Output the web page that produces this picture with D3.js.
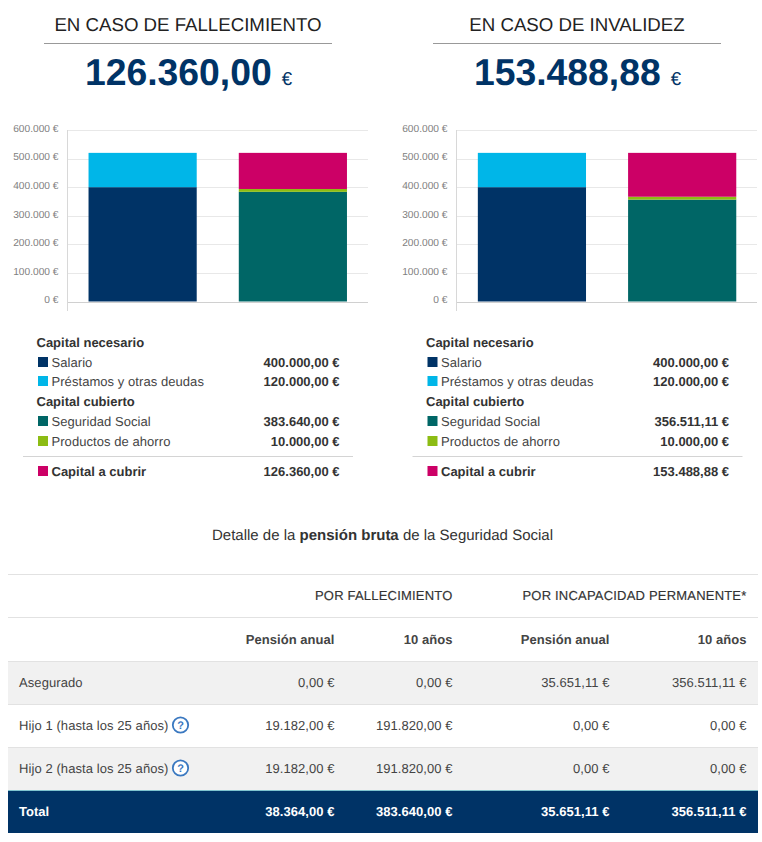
<!DOCTYPE html>
<html><head><meta charset="utf-8">
<script src="https://cdn.jsdelivr.net/npm/d3@7"></script>
<style>
html,body{margin:0;padding:0;background:#fff}
svg{display:block}
text{font-family:"Liberation Sans",Arial,sans-serif;text-rendering:geometricPrecision}
</style></head><body><svg id="c" width="762" height="842"></svg>
<script>
const panelTitles=["EN CASO DE FALLECIMIENTO","EN CASO DE INVALIDEZ"];
const panelTotals=["126.360,00","153.488,88"];
const barNames=["necesario","cubierto"];
const salario=[400000,400000];
const prestamos=[120000,120000];
const seguridad=[383640,356511.11];
const ahorro=[10000,10000];
const aCubrir=[126360,153488.88];
const yTicks=[0,100000,200000,300000,400000,500000,600000];
const colors={salario:"#003366",prestamos:"#00b6e8",seguridad:"#006666",ahorro:"#8cbc14",cubrir:"#cc0066"};
const legendHead=["Capital necesario","Capital cubierto"];
const legendSalarioVals=["400.000,00 €","400.000,00 €"];
const legendPrestVals=["120.000,00 €","120.000,00 €"];
const legendSegVals=["383.640,00 €","356.511,11 €"];
const legendAhorroVals=["10.000,00 €","10.000,00 €"];
const legendCubrirVals=["126.360,00 €","153.488,88 €"];
const tableTitle=["Detalle de la ","pensión bruta"," de la Seguridad Social"];
const groupHeads=["POR FALLECIMIENTO","POR INCAPACIDAD PERMANENTE*"];
const subHeads=["Pensión anual","10 años","Pensión anual","10 años"];
const rowLabels=["Asegurado","Hijo 1 (hasta los 25 años)","Hijo 2 (hasta los 25 años)"];
const rowValues=[
 ["0,00 €","0,00 €","35.651,11 €","356.511,11 €"],
 ["19.182,00 €","191.820,00 €","0,00 €","0,00 €"],
 ["19.182,00 €","191.820,00 €","0,00 €","0,00 €"]];
const totalLabel="Total";
const totalValues=["38.364,00 €","383.640,00 €","35.651,11 €","356.511,11 €"];

const svg=d3.select("#c");
const fmt=d=>d3.format(",")(d).replace(/,/g,".")+" €";
const dark="#333333";

panelTitles.forEach((t,i)=>{
  const dx=i*389;
  const g=svg.append("g").attr("transform",`translate(${dx},0)`);
  const cx=188;
  g.append("text").attr("x",cx).attr("y",31).attr("text-anchor","middle").attr("font-size",18.67).attr("fill","#222").text(t);
  g.append("line").attr("x1",44).attr("x2",332).attr("y1",43.5).attr("y2",43.5).attr("stroke","#999");
  const big=g.append("text").attr("x",cx+0.5).attr("y",85).attr("text-anchor","middle").attr("fill","#003366");
  big.append("tspan").attr("font-size",37.33).attr("font-weight","bold").text(panelTotals[i]);
  big.append("tspan").attr("font-size",18.67).attr("dx",10).text("€");

  const y=d3.scaleLinear().domain([0,600000]).range([301.5,130]);
  const x=d3.scaleBand().domain(barNames).range([67.5,368]).paddingInner(0.28).paddingOuter(0.14);
  const ax=g.append("g").attr("transform","translate(67.5,-2)").call(d3.axisLeft(y).tickValues(yTicks).tickFormat(fmt).tickSize(0).tickPadding(9));
  ax.select(".domain").remove();
  ax.selectAll("text").attr("font-size",10.2).attr("font-family","'Liberation Sans',Arial,sans-serif").attr("fill","#808080");
  g.append("g").selectAll("line").data(yTicks).join("line").attr("x1",67.5).attr("x2",368)
    .attr("y1",d=>Math.round(y(d))+.5).attr("y2",d=>Math.round(y(d))+.5).attr("stroke",d=>d?"#e8e8e8":"#d0d0d0");
  g.append("line").attr("x1",67.5).attr("x2",67.5).attr("y1",130).attr("y2",311).attr("stroke","#d8d8d8");
  const stacks=[
    [[salario[i],colors.salario],[prestamos[i],colors.prestamos]],
    [[seguridad[i],colors.seguridad],[ahorro[i],colors.ahorro],[aCubrir[i],colors.cubrir]]];
  stacks.forEach((s,k)=>{
    let acc=0;
    s.forEach(([v,col])=>{
      g.append("rect").attr("x",x(barNames[k])+i*0.3).attr("width",x.bandwidth())
       .attr("y",y(acc+v)).attr("height",y(acc)-y(acc+v)).attr("fill",col);
      acc+=v;
    });
  });
  // legend
  const L=g.append("g").attr("transform",`translate(${i*0.5},0)`);
  const head=(txt,yy)=>L.append("text").attr("x",36.5).attr("y",yy).attr("font-size",13).attr("font-weight","bold").attr("fill",dark).text(txt);
  const item=(txt,val,col,yy,b)=>{
    L.append("rect").attr("x",38).attr("y",yy-10).attr("width",10).attr("height",10).attr("fill",col);
    L.append("text").attr("x",51.5).attr("y",yy).attr("font-size",13).attr("letter-spacing",b?0:0.06).attr("font-weight",b?"bold":"normal").attr("fill",b?dark:"#444").text(txt);
    L.append("text").attr("x",339.5).attr("y",yy).attr("text-anchor","end").attr("font-size",13).attr("font-weight","bold").attr("fill",dark).text(val);
  };
  head(legendHead[0],347);
  item("Salario",legendSalarioVals[i],colors.salario,367);
  item("Préstamos y otras deudas",legendPrestVals[i],colors.prestamos,386);
  head(legendHead[1],406);
  item("Seguridad Social",legendSegVals[i],colors.seguridad,426);
  item("Productos de ahorro",legendAhorroVals[i],colors.ahorro,446);
  L.append("line").attr("x1",23).attr("x2",353).attr("y1",456.5).attr("y2",456.5).attr("stroke","#d4d4d4");
  item("Capital a cubrir",legendCubrirVals[i],colors.cubrir,476,true);
});

// table
const tt=svg.append("text").attr("x",382.5).attr("y",540).attr("text-anchor","middle").attr("font-size",15).attr("fill",dark);
tableTitle.forEach((s,i)=>tt.append("tspan").attr("font-weight",i==1?"bold":"normal").text(s));

const T=svg.append("g");
const tl=8,tr=758;
const colRight=[334.5,452.5,609.5,746.5];
[574.5,617.5].forEach(yy=>T.append("line").attr("x1",tl).attr("x2",tr).attr("y1",yy).attr("y2",yy).attr("stroke","#e2e2e2"));
T.append("text").attr("x",452.5).attr("y",600).attr("text-anchor","end").attr("font-size",13).attr("letter-spacing",0.2).attr("fill",dark).attr("stroke",dark).attr("stroke-width",0.15).text(groupHeads[0]);
T.append("text").attr("x",746.5).attr("y",600).attr("text-anchor","end").attr("font-size",13).attr("letter-spacing",0.2).attr("fill",dark).attr("stroke",dark).attr("stroke-width",0.15).text(groupHeads[1]);
subHeads.forEach((s,i)=>T.append("text").attr("x",colRight[i]).attr("y",644).attr("text-anchor","end").attr("font-size",13).attr("letter-spacing",0.05).attr("font-weight","bold").attr("fill","#444").text(s));
const rowTop=[661,704,747];
rowLabels.forEach((lab,r)=>{
  const top=rowTop[r];
  T.append("rect").attr("x",tl).attr("y",top).attr("width",tr-tl).attr("height",43).attr("fill",r%2==0?"#f1f1f1":"#fff");
  T.append("line").attr("x1",tl).attr("x2",tr).attr("y1",top+.5).attr("y2",top+.5).attr("stroke","#e2e2e2");
  T.append("text").attr("x",19).attr("y",top+26).attr("font-size",13).attr("letter-spacing",0.08).attr("fill","#444").text(lab);
  rowValues[r].forEach((v,c)=>T.append("text").attr("x",colRight[c]).attr("y",top+26).attr("text-anchor","end").attr("font-size",13).attr("letter-spacing",0.05).attr("fill","#444").text(v));
  if(r>0){
    const cy=top+21;
    T.append("circle").attr("cx",180.5).attr("cy",cy).attr("r",7.7).attr("fill","#fff").attr("stroke","#3a78c0").attr("stroke-width",1.8);
    T.append("text").attr("x",180.5).attr("y",cy+4).attr("text-anchor","middle").attr("font-size",11).attr("font-weight","bold").attr("fill","#3a78c0").text("?");
  }
});
T.append("rect").attr("x",tl).attr("y",790).attr("width",tr-tl).attr("height",43).attr("fill","#003366");
T.append("line").attr("x1",tl).attr("x2",tr).attr("y1",790.5).attr("y2",790.5).attr("stroke","#7fc4cf");
T.append("text").attr("x",19).attr("y",816).attr("font-size",13).attr("font-weight","bold").attr("fill","#fff").text(totalLabel);
totalValues.forEach((v,c)=>T.append("text").attr("x",colRight[c]).attr("y",816).attr("text-anchor","end").attr("font-size",13).attr("letter-spacing",0.05).attr("font-weight","bold").attr("fill","#fff").text(v));
</script></body></html>
